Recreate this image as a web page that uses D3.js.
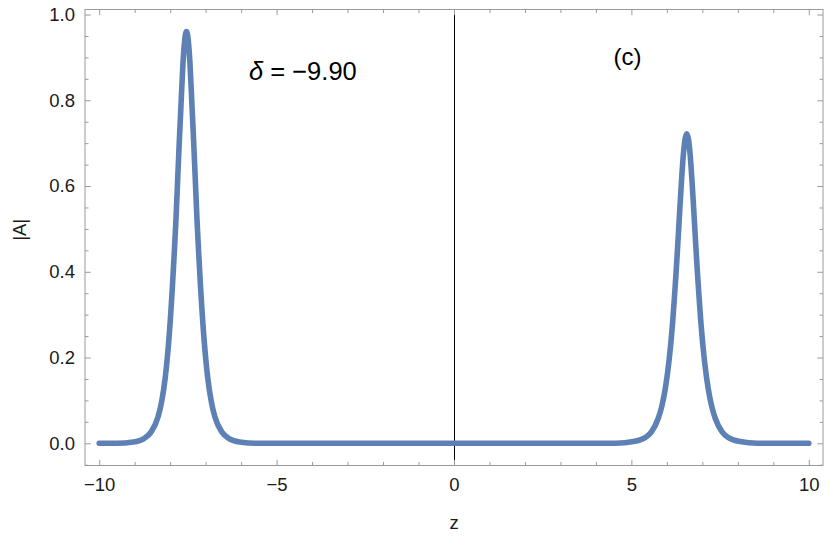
<!DOCTYPE html>
<html>
<head>
<meta charset="utf-8">
<script src="https://cdn.jsdelivr.net/npm/d3@7"></script>
<style>
  html, body { margin: 0; padding: 0; background: #fff; }
  svg { display: block; font-family: "Liberation Sans", Arial, sans-serif; }
</style>
</head>
<body>
<svg id="chart" width="830" height="549"></svg>
<script>
// ---- data ----
const zValues = [
  -10, -9.5, -9.04, -8.74, -8.54, -8.34, -8.24, -8.14, -8.04, -7.94, -7.89, -7.84, -7.79, -7.74, -7.69, -7.64, -7.59,
  -7.54,
  -7.49, -7.44, -7.39, -7.34, -7.29, -7.24, -7.19, -7.14, -7.04, -6.94, -6.84, -6.74, -6.54, -6.34, -6.04, -5.54,
  0, 4.56,
  5.06, 5.36, 5.56, 5.76, 5.86, 5.96, 6.06, 6.16, 6.21, 6.26, 6.31, 6.36, 6.41, 6.46, 6.51,
  6.56,
  6.61, 6.66, 6.71, 6.76, 6.81, 6.86, 6.91, 6.96, 7.06, 7.16, 7.26, 7.36, 7.56, 7.76, 8.06, 8.56,
  10
];
const absA = [
  0, 0, 0.003, 0.011, 0.026, 0.062, 0.097, 0.152, 0.238, 0.36, 0.435, 0.515, 0.612, 0.708, 0.797, 0.884, 0.94,
  0.96,
  0.94, 0.884, 0.797, 0.708, 0.612, 0.515, 0.435, 0.36, 0.238, 0.152, 0.097, 0.062, 0.026, 0.011, 0.003, 0,
  0, 0,
  0.004, 0.012, 0.026, 0.059, 0.087, 0.13, 0.192, 0.28, 0.337, 0.399, 0.468, 0.54, 0.609, 0.669, 0.708,
  0.722,
  0.708, 0.669, 0.609, 0.54, 0.468, 0.399, 0.337, 0.28, 0.192, 0.13, 0.087, 0.059, 0.026, 0.012, 0.004, 0,
  0
];
const xMajorTicks = [-10, -5, 0, 5, 10];
const xTickLabels = ["\u221210", "\u22125", "0", "5", "10"];
const xMinorTicks = [-9, -8, -7, -6, -4, -3, -2, -1, 1, 2, 3, 4, 6, 7, 8, 9];
const yMajorTicks = [0, 0.2, 0.4, 0.6, 0.8, 1.0];
const yTickLabels = ["0.0", "0.2", "0.4", "0.6", "0.8", "1.0"];
const yMinorTicks = [-0.05, 0.05, 0.1, 0.15, 0.25, 0.3, 0.35, 0.45, 0.5, 0.55, 0.65, 0.7, 0.75, 0.85, 0.9, 0.95];
const xTitle = "z";
const yTitle = "|A|";
const deltaSymbol = "\u03b4";
const deltaText = " = \u22129.90";
const panelLabel = "(c)";

// ---- layout ----
const frame = { left: 85, right: 823, top: 9.5, bottom: 465.5 };
const x = d3.scaleLinear().domain([-10.4, 10.4]).range([frame.left, frame.right]);
const y = d3.scaleLinear().domain([-0.0518, 1.0117]).range([frame.bottom, frame.top]);

const svg = d3.select("#chart");
const frameColor = "#9a9a9a";
const labelColor = "#1a1a1a";
const majorLen = 5.7, minorLen = 3.5;
const tickFont = "18.5px";

// vertical line at z = 0
const x0 = Math.floor(x(0)) + 0.5;
svg.append("line")
  .attr("x1", x0).attr("x2", x0)
  .attr("y1", frame.top).attr("y2", frame.bottom)
  .attr("stroke", "#000").attr("stroke-width", 1);

// curve
svg.append("clipPath").attr("id", "clip")
  .append("rect").attr("x", frame.left).attr("y", frame.top)
  .attr("width", frame.right - frame.left).attr("height", frame.bottom - frame.top);

const pts = zValues.map((z, i) => [z, absA[i]]);
svg.append("path")
  .datum(pts)
  .attr("clip-path", "url(#clip)")
  .attr("fill", "none")
  .attr("stroke", "#5E81B5")
  .attr("stroke-width", 5.6)
  .attr("stroke-linecap", "round")
  .attr("stroke-linejoin", "round")
  .attr("d", d3.line().x(d => x(d[0])).y(d => y(d[1])).curve(d3.curveMonotoneX));

function styleAxis(g) {
  g.selectAll(".domain").remove();
  g.selectAll(".tick line").attr("stroke", frameColor);
  g.selectAll(".tick text").attr("fill", labelColor).style("font-size", tickFont)
    .style("font-family", "'Liberation Sans', Arial, sans-serif");
}

// bottom
svg.append("g").attr("transform", `translate(0,${frame.bottom})`)
  .call(d3.axisBottom(x).tickValues(xMajorTicks).tickSizeInner(-majorLen).tickSizeOuter(0).tickPadding(12)
    .tickFormat((d, i) => xTickLabels[i]))
  .call(styleAxis);
svg.append("g").attr("transform", `translate(0,${frame.bottom})`)
  .call(d3.axisBottom(x).tickValues(xMinorTicks).tickSizeInner(-minorLen).tickSizeOuter(0).tickFormat(""))
  .call(styleAxis);
// top
svg.append("g").attr("transform", `translate(0,${frame.top})`)
  .call(d3.axisTop(x).tickValues(xMajorTicks).tickSizeInner(-majorLen).tickSizeOuter(0).tickFormat(""))
  .call(styleAxis);
svg.append("g").attr("transform", `translate(0,${frame.top})`)
  .call(d3.axisTop(x).tickValues(xMinorTicks).tickSizeInner(-minorLen).tickSizeOuter(0).tickFormat(""))
  .call(styleAxis);
// left
svg.append("g").attr("transform", `translate(${frame.left},0)`)
  .call(d3.axisLeft(y).tickValues(yMajorTicks).tickSizeInner(-majorLen).tickSizeOuter(0).tickPadding(10)
    .tickFormat((d, i) => yTickLabels[i]))
  .call(styleAxis);
svg.append("g").attr("transform", `translate(${frame.left},0)`)
  .call(d3.axisLeft(y).tickValues(yMinorTicks).tickSizeInner(-minorLen).tickSizeOuter(0).tickFormat(""))
  .call(styleAxis);
// right
svg.append("g").attr("transform", `translate(${frame.right},0)`)
  .call(d3.axisRight(y).tickValues(yMajorTicks).tickSizeInner(-majorLen).tickSizeOuter(0).tickFormat(""))
  .call(styleAxis);
svg.append("g").attr("transform", `translate(${frame.right},0)`)
  .call(d3.axisRight(y).tickValues(yMinorTicks).tickSizeInner(-minorLen).tickSizeOuter(0).tickFormat(""))
  .call(styleAxis);

// frame
svg.append("rect")
  .attr("x", frame.left).attr("y", frame.top)
  .attr("width", frame.right - frame.left).attr("height", frame.bottom - frame.top)
  .attr("fill", "none").attr("stroke", frameColor).attr("stroke-width", 1);

// axis titles
svg.append("text")
  .attr("x", x(0)).attr("y", 529)
  .attr("text-anchor", "middle")
  .attr("fill", labelColor).style("font-size", tickFont)
  .text(xTitle);
svg.append("text")
  .attr("transform", `translate(26,${y(0.5) + 1}) rotate(-90)`)
  .attr("text-anchor", "middle")
  .attr("fill", labelColor).style("font-size", tickFont)
  .text(yTitle);

// annotations
const ann = svg.append("text")
  .attr("x", 249).attr("y", 80)
  .attr("fill", "#000").style("font-size", "25.5px");
ann.append("tspan").style("font-style", "italic").text(deltaSymbol);
ann.append("tspan").text(deltaText);

svg.append("text")
  .attr("x", 627.5).attr("y", 65)
  .attr("text-anchor", "middle")
  .attr("fill", "#000").style("font-size", "24px")
  .text(panelLabel);
</script>
</body>
</html>
